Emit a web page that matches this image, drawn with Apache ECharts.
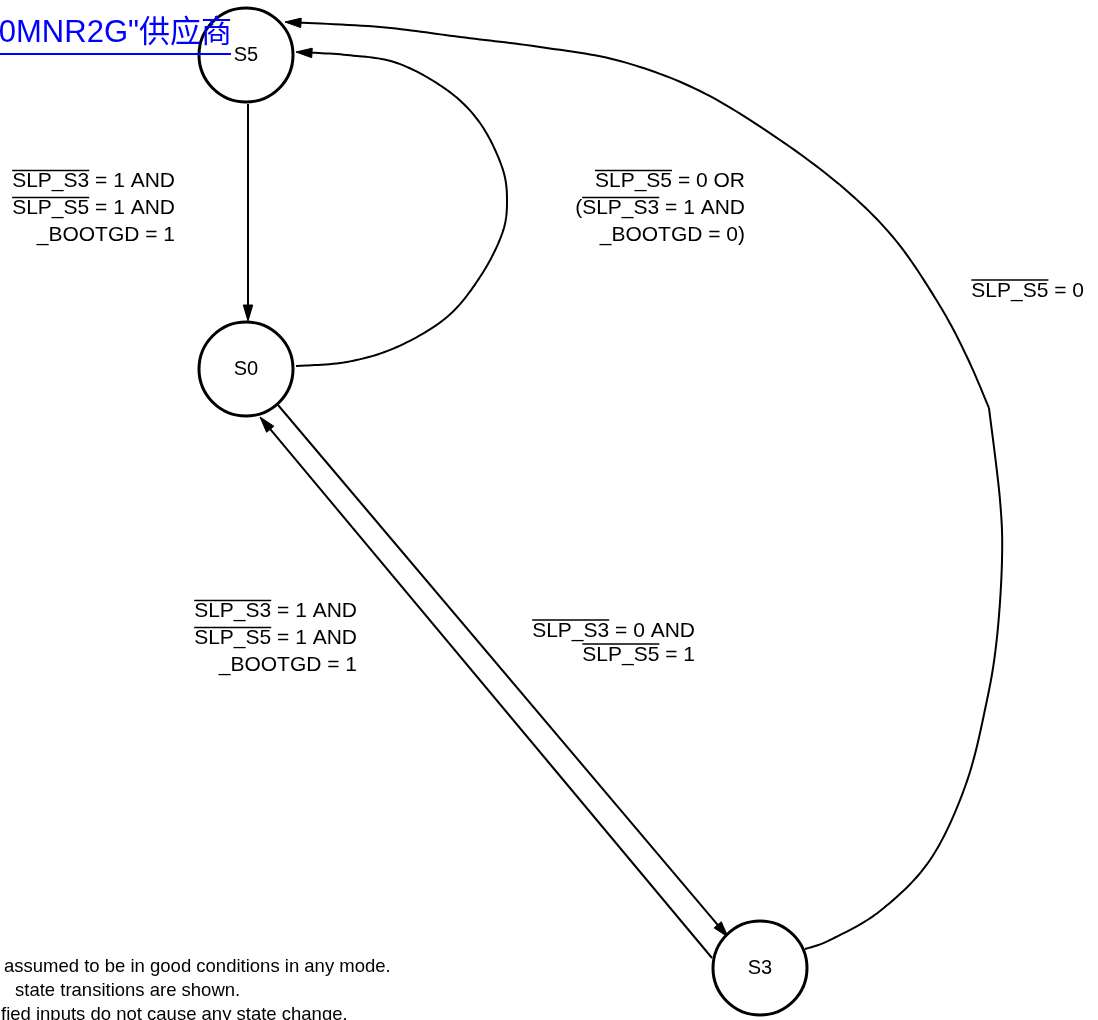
<!DOCTYPE html>
<html>
<head>
<meta charset="utf-8">
<script src="https://cdn.jsdelivr.net/npm/echarts@6/dist/echarts.min.js"></script>
<style>html,body{margin:0;padding:0;background:#fff}#c{width:1098px;height:1020px}</style>
</head>
<body>
<div id="c"></div>
<script>
// ---- states (nodes) ----
const NODE_NAMES = ['S5', 'S0', 'S3'];
const NODE_X = [246, 246, 760];
const NODE_Y = [55, 369, 968];

// ---- transitions (edge paths) ----
const EDGE_S5_S0 = [[248, 104], [248, 321]];
const EDGE_S0_S5 = [[296, 366], [347, 362], [397, 347], [447, 317], [480, 277], [502, 234], [507, 201],
  [502, 167], [480, 123], [447, 90], [397, 63], [347, 55], [296, 52]];
const EDGE_S3_S5_LOW = [[805, 949], [830, 940], [880, 911], [930, 860], [966, 784], [987, 700], [997, 637],
  [1002, 560], [1000, 500], [989, 408]];
const EDGE_S3_S5_UP = [[989, 408], [967, 357], [940, 306], [897, 242], [847, 191], [780, 140], [700, 91],
  [620, 61], [540, 47], [460, 37], [380, 27], [285, 22]];
const EDGE_S0_S3 = [[278, 405], [728, 937]];
const EDGE_S3_S0 = [[712, 958], [260, 417]];
const EDGES = [EDGE_S5_S0, EDGE_S0_S5, EDGE_S3_S5_LOW, EDGE_S3_S5_UP, EDGE_S0_S3, EDGE_S3_S0];
const EDGE_ARROW = [true, true, false, true, true, true];

// ---- transition conditions (~ marks overlined signal names) ----
const COND_S5_S0 = ['~SLP_S3~ = 1 AND', '~SLP_S5~ = 1 AND', '_BOOTGD = 1'];
const COND_S0_S5 = ['~SLP_S5~ = 0 OR', '(~SLP_S3~ = 1 AND', '_BOOTGD = 0)'];
const COND_S3_S5 = ['~SLP_S5~ = 0'];
const COND_S3_S0 = ['~SLP_S3~ = 1 AND', '~SLP_S5~ = 1 AND', '_BOOTGD = 1'];
const COND_S0_S3 = ['~SLP_S3~ = 0 AND', '~SLP_S5~ = 1'];
const CONDS = [COND_S5_S0, COND_S0_S5, COND_S3_S5, COND_S3_S0, COND_S0_S3];
const COND_RIGHT = [175, 745, 1084, 357, 695];
const COND_TOP = [181.5, 181.5, 291, 611.5, 631];
const COND_STEP = [27, 27, 27, 27, 24];

const NOTES = ['assumed to be in good conditions in any mode.', 'state transitions are shown.',
  'fied inputs do not cause any state change.'];
const LINK_TEXT = '0MNR2G"供应商';

const FONT = '"Liberation Sans", Arial, sans-serif';
const LABEL_SIZE = 21;
const mctx = document.createElement('canvas').getContext('2d');
function measure(t, size) { mctx.font = size + 'px ' + FONT; return mctx.measureText(t).width; }

// Catmull-Rom sampling of pixel points (smooth curve through the read points)
function spline(pts) {
  if (pts.length < 3) return pts.slice();
  const out = [pts[0]];
  const n = pts.length;
  for (let i = 0; i < n - 1; i++) {
    const p0 = pts[i - 1] || pts[i], p1 = pts[i], p2 = pts[i + 1], p3 = pts[i + 2] || pts[i + 1];
    const c1 = [p1[0] + (p2[0] - p0[0]) / 6, p1[1] + (p2[1] - p0[1]) / 6];
    const c2 = [p2[0] - (p3[0] - p1[0]) / 6, p2[1] - (p3[1] - p1[1]) / 6];
    for (let k = 1; k <= 16; k++) {
      const t = k / 16, u = 1 - t;
      out.push([
        u * u * u * p1[0] + 3 * u * u * t * c1[0] + 3 * u * t * t * c2[0] + t * t * t * p2[0],
        u * u * u * p1[1] + 3 * u * u * t * c1[1] + 3 * u * t * t * c2[1] + t * t * t * p2[1]
      ]);
    }
  }
  return out;
}

const chart = echarts.init(document.getElementById('c'), null, { renderer: 'canvas' });

function renderEdge(params, api) {
  const i = api.value(0);
  const pts = EDGES[i].map(p => api.coord(p));
  const children = [];
  const n = pts.length;
  let curve = spline(pts);
  if (EDGE_ARROW[i]) {
    const tip = pts[n - 1], prev = pts[n - 2];
    let dx = tip[0] - prev[0], dy = tip[1] - prev[1];
    const len = Math.sqrt(dx * dx + dy * dy); dx /= len; dy /= len;
    const L = 16, W = 9.5;
    const bx = tip[0] - dx * L, by = tip[1] - dy * L;
    curve = curve.filter(p => Math.hypot(p[0] - tip[0], p[1] - tip[1]) > L - 3 || p === curve[0]);
    curve.push([tip[0] - dx * (L - 3), tip[1] - dy * (L - 3)]);
    children.push({
      type: 'polygon', z2: 2,
      shape: { points: [tip, [bx - dy * W / 2, by + dx * W / 2], [bx + dy * W / 2, by - dx * W / 2]] },
      style: { fill: '#000', stroke: '#000', lineWidth: 1 }
    });
  }
  children.unshift({
    type: 'polyline',
    shape: { points: curve },
    style: { stroke: '#000', lineWidth: 2, fill: null, lineJoin: 'round' }
  });
  return { type: 'group', children };
}

function renderCond(params, api) {
  const i = api.value(0);
  const children = [];
  CONDS[i].forEach((line, k) => {
    const parts = line.split('~');
    const total = measure(parts.join(''), LABEL_SIZE);
    const pos = api.coord([COND_RIGHT[i], COND_TOP[i] + k * COND_STEP[i]]);
    let x = pos[0] - total;
    const y = pos[1];
    parts.forEach((seg, j) => {
      if (!seg) return;
      const w = measure(seg, LABEL_SIZE);
      children.push({
        type: 'text', x: x, y: y,
        style: { text: seg, fontSize: LABEL_SIZE, fontFamily: FONT, fill: '#000', align: 'left', verticalAlign: 'middle' }
      });
      if (j % 2 === 1) {
        children.push({
          type: 'line', shape: { x1: x, y1: y - 11, x2: x + w, y2: y - 11 },
          style: { stroke: '#000', lineWidth: 1.3 }
        });
      }
      x += w;
    });
  });
  return { type: 'group', children };
}

chart.setOption({
  animation: false,
  backgroundColor: '#fff',
  grid: { left: 0, right: 0, top: 0, bottom: 0 },
  xAxis: { type: 'value', min: 0, max: 1098, show: false },
  yAxis: { type: 'value', min: 0, max: 1020, inverse: true, show: false },
  graphic: [
    { type: 'text', z: 100, x: 232, y: 33, style: { text: LINK_TEXT, fontSize: 31, fontFamily: '"Liberation Sans", "Noto Sans CJK SC", sans-serif', fill: '#0000ff', align: 'right', verticalAlign: 'middle' } },
    { type: 'line', z: 100, shape: { x1: 0, y1: 54, x2: 231, y2: 54 }, style: { stroke: '#0000ff', lineWidth: 2 } },
    { type: 'text', x: 4, y: 966.5, style: { text: NOTES[0], fontSize: 18.5, fontFamily: FONT, fill: '#000', align: 'left', verticalAlign: 'middle' } },
    { type: 'text', x: 15, y: 991, style: { text: NOTES[1], fontSize: 18.5, fontFamily: FONT, fill: '#000', align: 'left', verticalAlign: 'middle' } },
    { type: 'text', x: 1, y: 1015, style: { text: NOTES[2], fontSize: 18.5, fontFamily: FONT, fill: '#000', align: 'left', verticalAlign: 'middle' } }
  ],
  series: [
    {
      type: 'custom', renderItem: renderEdge, silent: true, z: 1,
      data: EDGES.map((e, i) => [i, 0])
    },
    {
      type: 'scatter', z: 3, silent: true,
      symbol: 'circle', symbolSize: 94,
      itemStyle: { color: '#fff', borderColor: '#000', borderWidth: 3, opacity: 1 },
      label: { show: true, position: 'inside', formatter: '{b}', fontSize: 20, fontFamily: FONT, color: '#000' },
      data: NODE_NAMES.map((n, i) => ({ name: n, value: [NODE_X[i], NODE_Y[i]] }))
    },
    {
      type: 'custom', renderItem: renderCond, silent: true, z: 4,
      data: CONDS.map((c, i) => [i, 0])
    }
  ]
});
</script>
</body>
</html>
